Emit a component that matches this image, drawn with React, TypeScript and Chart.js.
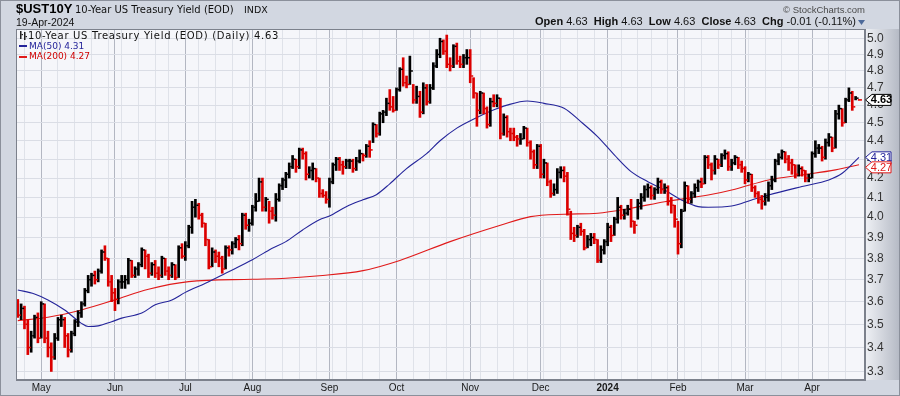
import React, { useEffect, useRef } from "react";
import { Chart, registerables } from "chart.js";
Chart.register(...registerables);

// ---------- DATA ----------
const dates: string[] = [
  "2023-04-20","2023-04-21","2023-04-24","2023-04-25","2023-04-26","2023-04-27","2023-04-28",
  "2023-05-01","2023-05-02","2023-05-03","2023-05-04","2023-05-05","2023-05-08","2023-05-09","2023-05-10","2023-05-11","2023-05-12","2023-05-15","2023-05-16","2023-05-17","2023-05-18","2023-05-19","2023-05-22","2023-05-23","2023-05-24","2023-05-25","2023-05-26","2023-05-30","2023-05-31",
  "2023-06-01","2023-06-02","2023-06-05","2023-06-06","2023-06-07","2023-06-08","2023-06-09","2023-06-12","2023-06-13","2023-06-14","2023-06-15","2023-06-16","2023-06-20","2023-06-21","2023-06-22","2023-06-23","2023-06-26","2023-06-27","2023-06-28","2023-06-29","2023-06-30",
  "2023-07-03","2023-07-05","2023-07-06","2023-07-07","2023-07-10","2023-07-11","2023-07-12","2023-07-13","2023-07-14","2023-07-17","2023-07-18","2023-07-19","2023-07-20","2023-07-21","2023-07-24","2023-07-25","2023-07-26","2023-07-27","2023-07-28","2023-07-31",
  "2023-08-01","2023-08-02","2023-08-03","2023-08-04","2023-08-07","2023-08-08","2023-08-09","2023-08-10","2023-08-11","2023-08-14","2023-08-15","2023-08-16","2023-08-17","2023-08-18","2023-08-21","2023-08-22","2023-08-23","2023-08-24","2023-08-25","2023-08-28","2023-08-29","2023-08-30","2023-08-31",
  "2023-09-01","2023-09-05","2023-09-06","2023-09-07","2023-09-08","2023-09-11","2023-09-12","2023-09-13","2023-09-14","2023-09-15","2023-09-18","2023-09-19","2023-09-20","2023-09-21","2023-09-22","2023-09-25","2023-09-26","2023-09-27","2023-09-28","2023-09-29",
  "2023-10-02","2023-10-03","2023-10-04","2023-10-05","2023-10-06","2023-10-09","2023-10-10","2023-10-11","2023-10-12","2023-10-13","2023-10-16","2023-10-17","2023-10-18","2023-10-19","2023-10-20","2023-10-23","2023-10-24","2023-10-25","2023-10-26","2023-10-27","2023-10-30","2023-10-31",
  "2023-11-01","2023-11-02","2023-11-03","2023-11-06","2023-11-07","2023-11-08","2023-11-09","2023-11-10","2023-11-13","2023-11-14","2023-11-15","2023-11-16","2023-11-17","2023-11-20","2023-11-21","2023-11-22","2023-11-24","2023-11-27","2023-11-28","2023-11-29","2023-11-30",
  "2023-12-01","2023-12-04","2023-12-05","2023-12-06","2023-12-07","2023-12-08","2023-12-11","2023-12-12","2023-12-13","2023-12-14","2023-12-15","2023-12-18","2023-12-19","2023-12-20","2023-12-21","2023-12-22","2023-12-26","2023-12-27","2023-12-28","2023-12-29",
  "2024-01-02","2024-01-03","2024-01-04","2024-01-05","2024-01-08","2024-01-09","2024-01-10","2024-01-11","2024-01-12","2024-01-16","2024-01-17","2024-01-18","2024-01-19","2024-01-22","2024-01-23","2024-01-24","2024-01-25","2024-01-26","2024-01-29","2024-01-30","2024-01-31",
  "2024-02-01","2024-02-02","2024-02-05","2024-02-06","2024-02-07","2024-02-08","2024-02-09","2024-02-12","2024-02-13","2024-02-14","2024-02-15","2024-02-16","2024-02-20","2024-02-21","2024-02-22","2024-02-23","2024-02-26","2024-02-27","2024-02-28","2024-02-29",
  "2024-03-01","2024-03-04","2024-03-05","2024-03-06","2024-03-07","2024-03-08","2024-03-11","2024-03-12","2024-03-13","2024-03-14","2024-03-15","2024-03-18","2024-03-19","2024-03-20","2024-03-21","2024-03-22","2024-03-25","2024-03-26","2024-03-27","2024-03-28",
  "2024-04-01","2024-04-02","2024-04-03","2024-04-04","2024-04-05","2024-04-08","2024-04-09","2024-04-10","2024-04-11","2024-04-12","2024-04-15","2024-04-16","2024-04-17","2024-04-18","2024-04-19",
];

const prevClose = 3.6; // close before the first bar

const closes: number[] = [
  3.54,3.57,3.50,3.40,3.45,3.53,3.44,
  3.59,3.44,3.40,3.36,3.44,3.52,3.52,3.45,3.39,3.46,3.51,3.55,3.59,3.65,3.70,3.72,3.70,3.74,3.83,3.80,3.69,3.64,
  3.61,3.69,3.69,3.70,3.79,3.72,3.75,3.77,3.84,3.81,3.73,3.77,3.73,3.72,3.80,3.74,3.72,3.77,3.71,3.85,3.81,
  3.86,3.95,4.05,4.06,4.01,3.97,3.89,3.76,3.83,3.81,3.80,3.75,3.85,3.84,3.87,3.89,3.87,4.01,3.96,3.97,
  4.05,4.08,4.18,4.05,4.09,4.03,4.01,4.09,4.16,4.19,4.22,4.26,4.30,4.26,4.35,4.33,4.22,4.24,4.25,4.20,4.12,4.11,4.09,
  4.18,4.27,4.30,4.27,4.26,4.29,4.29,4.25,4.29,4.33,4.32,4.37,4.35,4.49,4.44,4.55,4.56,4.61,4.59,4.57,
  4.69,4.81,4.73,4.72,4.80,4.63,4.65,4.56,4.70,4.62,4.70,4.83,4.90,4.98,4.92,4.84,4.83,4.95,4.86,4.84,4.88,4.88,
  4.77,4.67,4.57,4.67,4.58,4.49,4.62,4.61,4.64,4.44,4.53,4.45,4.44,4.42,4.41,4.41,4.47,4.39,4.34,4.27,4.37,
  4.22,4.28,4.18,4.12,4.14,4.23,4.24,4.21,4.04,3.92,3.91,3.95,3.93,3.85,3.89,3.90,3.89,3.79,3.84,3.88,
  3.95,3.91,3.99,4.05,4.01,4.02,4.04,3.98,3.96,4.07,4.10,4.14,4.15,4.11,4.14,4.18,4.14,4.15,4.08,4.06,3.99,
  3.87,4.03,4.16,4.09,4.12,4.15,4.18,4.17,4.31,4.27,4.24,4.30,4.27,4.32,4.33,4.26,4.28,4.31,4.27,4.25,
  4.19,4.22,4.15,4.12,4.09,4.08,4.10,4.16,4.19,4.29,4.31,4.34,4.30,4.28,4.27,4.22,4.25,4.24,4.20,4.20,
  4.33,4.36,4.36,4.31,4.39,4.42,4.36,4.55,4.58,4.50,4.63,4.67,4.59,4.64,4.63,
];

const highs: number[] = [
  3.61,3.59,3.58,3.52,3.47,3.54,3.55,
  3.60,3.59,3.47,3.42,3.46,3.53,3.54,3.53,3.46,3.47,3.52,3.56,3.60,3.66,3.72,3.73,3.74,3.75,3.84,3.86,3.80,3.72,
  3.66,3.70,3.72,3.72,3.80,3.79,3.76,3.78,3.85,3.84,3.82,3.78,3.79,3.76,3.81,3.80,3.76,3.78,3.77,3.86,3.87,
  3.88,3.96,4.08,4.09,4.07,4.02,3.97,3.89,3.85,3.84,3.83,3.81,3.86,3.86,3.88,3.90,3.91,4.02,4.02,3.99,
  4.06,4.12,4.20,4.20,4.10,4.08,4.05,4.12,4.17,4.20,4.23,4.28,4.32,4.30,4.36,4.36,4.34,4.26,4.28,4.25,4.20,4.14,4.13,
  4.20,4.28,4.31,4.31,4.29,4.30,4.30,4.30,4.31,4.35,4.33,4.38,4.40,4.50,4.49,4.56,4.57,4.64,4.69,4.65,
  4.70,4.82,4.88,4.77,4.89,4.72,4.71,4.68,4.73,4.72,4.72,4.85,4.93,5.00,4.99,5.02,4.88,4.96,4.97,4.89,4.90,4.93,
  4.93,4.76,4.67,4.68,4.67,4.59,4.64,4.66,4.66,4.64,4.55,4.54,4.47,4.47,4.43,4.44,4.48,4.47,4.40,4.35,4.38,
  4.38,4.30,4.28,4.19,4.17,4.25,4.26,4.26,4.23,4.03,3.95,3.96,3.97,3.94,3.91,3.92,3.92,3.89,3.86,3.89,
  3.97,3.96,4.00,4.10,4.06,4.04,4.06,4.09,3.98,4.09,4.12,4.16,4.17,4.16,4.15,4.20,4.19,4.17,4.16,4.10,4.06,
  3.98,4.04,4.18,4.16,4.13,4.17,4.19,4.20,4.32,4.32,4.28,4.32,4.30,4.33,4.35,4.34,4.30,4.32,4.31,4.29,
  4.26,4.23,4.22,4.16,4.13,4.11,4.12,4.18,4.21,4.30,4.33,4.35,4.34,4.32,4.30,4.27,4.27,4.26,4.24,4.22,
  4.34,4.40,4.38,4.37,4.41,4.44,4.42,4.57,4.60,4.58,4.64,4.70,4.68,4.65,4.63,
];

const lows: number[] = [
  3.53,3.52,3.48,3.37,3.38,3.44,3.42,
  3.44,3.42,3.36,3.30,3.35,3.43,3.49,3.40,3.36,3.38,3.45,3.49,3.53,3.58,3.64,3.67,3.68,3.69,3.73,3.79,3.67,3.60,
  3.56,3.59,3.66,3.66,3.68,3.71,3.71,3.72,3.76,3.75,3.71,3.72,3.71,3.70,3.71,3.72,3.70,3.71,3.70,3.71,3.80,
  3.79,3.85,3.92,4.00,3.99,3.95,3.86,3.75,3.76,3.78,3.76,3.73,3.75,3.81,3.82,3.85,3.84,3.86,3.94,3.93,
  3.96,4.03,4.08,4.03,4.03,3.97,3.99,3.98,4.08,4.14,4.15,4.20,4.25,4.23,4.25,4.30,4.19,4.20,4.19,4.18,4.10,4.10,4.07,
  4.05,4.17,4.24,4.24,4.22,4.25,4.25,4.23,4.24,4.28,4.29,4.31,4.31,4.39,4.42,4.43,4.50,4.54,4.57,4.56,
  4.57,4.68,4.71,4.70,4.72,4.61,4.61,4.53,4.55,4.60,4.61,4.69,4.82,4.88,4.90,4.82,4.80,4.82,4.84,4.82,4.82,4.84,
  4.73,4.64,4.48,4.55,4.55,4.47,4.48,4.59,4.59,4.41,4.43,4.42,4.40,4.40,4.37,4.38,4.41,4.37,4.30,4.25,4.25,
  4.20,4.20,4.16,4.10,4.11,4.12,4.20,4.18,4.01,3.89,3.88,3.90,3.91,3.84,3.85,3.86,3.87,3.78,3.78,3.82,
  3.86,3.88,3.91,3.97,3.99,3.99,4.01,3.95,3.92,3.99,4.04,4.08,4.10,4.09,4.09,4.12,4.12,4.12,4.06,4.02,3.95,
  3.82,3.85,4.03,4.07,4.07,4.10,4.13,4.15,4.17,4.25,4.19,4.22,4.25,4.26,4.30,4.24,4.24,4.27,4.25,4.23,
  4.17,4.18,4.13,4.10,4.07,4.04,4.06,4.08,4.14,4.18,4.27,4.30,4.28,4.24,4.22,4.20,4.21,4.21,4.18,4.18,
  4.20,4.31,4.33,4.29,4.30,4.37,4.34,4.36,4.52,4.48,4.50,4.62,4.57,4.63,4.63,
];

const ma50Dates: string[] = [
  "2023-04-20","2023-04-27","2023-05-03","2023-05-10","2023-05-17","2023-05-19","2023-05-24","2023-05-31","2023-06-05","2023-06-13",
  "2023-06-20","2023-06-27","2023-07-03","2023-07-12","2023-07-20","2023-08-01","2023-08-08","2023-08-15","2023-08-22","2023-08-29",
  "2023-09-01","2023-09-11","2023-09-18","2023-09-22","2023-09-28","2023-10-05","2023-10-13","2023-10-19","2023-10-26","2023-11-03",
  "2023-11-09","2023-11-16","2023-11-27","2023-12-04","2023-12-12","2023-12-19","2023-12-27","2024-01-04","2024-01-11","2024-01-19",
  "2024-01-26","2024-02-02","2024-02-09","2024-02-14","2024-02-26","2024-03-05","2024-03-12","2024-03-26","2024-04-08","2024-04-12",
  "2024-04-19",
];
const ma50Values: number[] = [
  3.653,3.635,3.608,3.563,3.504,3.490,3.493,3.511,3.527,3.549,
  3.586,3.608,3.642,3.684,3.730,3.793,3.840,3.880,3.937,3.987,
  4.006,4.053,4.088,4.114,4.17,4.25,4.33,4.40,4.47,4.53,
  4.565,4.60,4.624,4.61,4.582,4.506,4.423,4.323,4.234,4.181,
  4.138,4.087,4.053,4.050,4.056,4.087,4.112,4.156,4.190,4.225,
  4.31,
];

const ma200Dates: string[] = [
  "2023-04-20","2023-05-03","2023-05-17","2023-06-01","2023-06-15","2023-07-05","2023-08-01","2023-08-15","2023-08-29","2023-09-18",
  "2023-10-03","2023-10-24","2023-11-14","2023-11-28","2023-12-12","2023-12-27","2024-01-11","2024-01-26","2024-02-14","2024-02-27",
  "2024-03-12","2024-03-26","2024-04-10","2024-04-19",
];
const ma200Values: number[] = [
  3.516,3.531,3.563,3.608,3.656,3.691,3.702,3.707,3.718,3.742,
  3.790,3.880,3.960,4.003,4.015,4.020,4.045,4.078,4.112,4.142,
  4.190,4.216,4.243,4.27,
];

const yTickValues: number[] = [3.3,3.4,3.5,3.6,3.7,3.8,3.9,4.0,4.1,4.2,4.3,4.4,4.5,4.6,4.7,4.8,4.9,5.0];
const monthNames: string[] = ["Jan","Feb","Mar","Apr","May","Jun","Jul","Aug","Sep","Oct","Nov","Dec"];

const lastOpen = 4.63;
const lastChange = -0.01;
const lastChangePct = -0.11;

// ---------- DERIVED ----------
const parsed = dates.map((d) => new Date(d + "T00:00:00Z"));
const monthStarts: number[] = [];
const weekStarts: number[] = [];
parsed.forEach((d, i) => {
  if (i === 0) return;
  const p = parsed[i - 1];
  if (d.getUTCMonth() !== p.getUTCMonth()) monthStarts.push(i);
  if (d.getUTCDay() <= p.getUTCDay() || (d.getTime() - p.getTime()) > 4 * 86400000) weekStarts.push(i);
});
const monthSet = new Set(monthStarts);
const gridTicks = Array.from(new Set([...weekStarts, ...monthStarts])).sort((a, b) => a - b);
const monthLabel = (i: number) => {
  const d = parsed[i];
  return d.getUTCMonth() === 0 ? String(d.getUTCFullYear()) : monthNames[d.getUTCMonth()];
};

const RED = "#dc0000";
const BLACK = "#000000";
const BLUE = "#24249a";
const MARED = "#e01a1a";
const barColors = closes.map((c, i) => (c < (i === 0 ? prevClose : closes[i - 1]) ? RED : BLACK));

const SANS = "'Liberation Sans', Arial, sans-serif";
const DV = "'DejaVu Sans', Verdana, sans-serif";

const last = closes[closes.length - 1];
const lastHigh = highs[highs.length - 1];
const lastLow = lows[lows.length - 1];
const ma50Last = ma50Values[ma50Values.length - 1];
const ma200Last = ma200Values[ma200Values.length - 1];

// ---------- PLUGINS ----------
const bgPlugin = {
  id: "bgPlugin",
  beforeDraw(chart: any) {
    const { ctx, chartArea: a, width } = chart;
    ctx.save();
    const g = ctx.createLinearGradient(a.right, 0, width, 0);
    g.addColorStop(0, "#eff1f5");
    g.addColorStop(1, "#b4b9c4");
    ctx.fillStyle = g;
    ctx.fillRect(a.right, a.top, width - a.right, a.bottom - a.top);
    ctx.fillStyle = "#f5f6fa";
    ctx.fillRect(a.left, a.top, a.right - a.left, a.bottom - a.top);
    ctx.restore();
  },
  afterDraw(chart: any) {
    const { ctx, chartArea: a } = chart;
    ctx.save();
    ctx.strokeStyle = "#7c818c";
    ctx.lineWidth = 1;
    ctx.strokeRect(Math.round(a.left) + 0.5, Math.round(a.top) + 0.5, Math.round(a.right - a.left) - 1, Math.round(a.bottom - a.top) - 1);
    ctx.restore();
  },
};

const closeTickPlugin = {
  id: "closeTicks",
  afterDatasetsDraw(chart: any) {
    const { ctx } = chart;
    const meta = chart.getDatasetMeta(0);
    const ys = chart.scales.y;
    ctx.save();
    meta.data.forEach((el: any, i: number) => {
      const y = ys.getPixelForValue(closes[i]);
      ctx.fillStyle = barColors[i];
      ctx.fillRect(el.x + 1, y - 0.75, 2, 1.5);
      if (highs[i] === lows[i]) ctx.fillRect(el.x - 1, y - 0.75, 2, 1.5);
    });
    ctx.restore();
  },
};

const valueBoxPlugin = {
  id: "valueBoxes",
  afterDraw(chart: any) {
    const { ctx, chartArea: a } = chart;
    const ys = chart.scales.y;
    const boxes = [
      { v: last, color: "#000000", text: last.toFixed(2), bold: true },
      { v: ma50Last, color: BLUE, text: ma50Last.toFixed(2), bold: false },
      { v: ma200Last, color: MARED, text: ma200Last.toFixed(2), bold: false },
    ].map((b) => ({ ...b, y: ys.getPixelForValue(b.v) }));
    boxes.sort((p, q) => p.y - q.y);
    for (let i = 1; i < boxes.length; i++) {
      if (boxes[i].y - boxes[i - 1].y < 10) boxes[i].y = boxes[i - 1].y + 10;
    }
    ctx.save();
    boxes.forEach((b) => {
      const x0 = a.right + 0.5;
      const x1 = a.right + 7;
      const x2 = a.right + 26;
      const h = 5.5;
      ctx.beginPath();
      ctx.moveTo(x0, b.y);
      ctx.lineTo(x1, b.y - h);
      ctx.lineTo(x2, b.y - h);
      ctx.lineTo(x2, b.y + h);
      ctx.lineTo(x1, b.y + h);
      ctx.closePath();
      ctx.fillStyle = "#ffffff";
      ctx.fill();
      ctx.strokeStyle = b.color;
      ctx.lineWidth = 1;
      ctx.stroke();
      ctx.fillStyle = b.color;
      ctx.font = `${b.bold ? "bold " : ""}11px ${SANS}`;
      ctx.textAlign = "center";
      ctx.textBaseline = "middle";
      ctx.fillText(b.text, (x1 + x2) / 2, b.y + 0.5);
    });
    ctx.restore();
  },
};

// ---------- COMPONENT ----------
function Txt(props: any) {
  const { x, base, size, family, weight, color, right, ls, children } = props;
  const style: any = {
    position: "absolute",
    top: base - size * 0.85,
    fontSize: size,
    lineHeight: `${size}px`,
    fontFamily: family,
    fontWeight: weight || "normal",
    color: color || "#000",
    whiteSpace: "nowrap",
    letterSpacing: ls || 0,
  };
  if (right !== undefined) style.right = 900 - right;
  else style.left = x;
  return <div style={style}>{children}</div>;
}

export default function App() {
  const ref = useRef<HTMLCanvasElement>(null);
  useEffect(() => {
    const chart = new Chart(ref.current as HTMLCanvasElement, {
      type: "bar",
      data: {
        datasets: [
          {
            type: "bar",
            label: "10-Year US Treasury Yield",
            data: closes.map((c, i) => ({ x: i, y: [lows[i], highs[i]] })) as any,
            backgroundColor: barColors,
            borderWidth: 0,
            barThickness: 2,
            grouped: false,
            order: 0,
          } as any,
          {
            type: "line",
            label: "MA(50)",
            data: ma50Dates.map((d, k) => ({ x: dates.indexOf(d), y: ma50Values[k] })),
            borderColor: BLUE,
            borderWidth: 1.1,
            pointRadius: 0,
            cubicInterpolationMode: "monotone",
            order: 1,
          } as any,
          {
            type: "line",
            label: "MA(200)",
            data: ma200Dates.map((d, k) => ({ x: dates.indexOf(d), y: ma200Values[k] })),
            borderColor: MARED,
            borderWidth: 1.1,
            pointRadius: 0,
            cubicInterpolationMode: "monotone",
            order: 1,
          } as any,
        ],
      },
      options: {
        animation: false,
        responsive: false,
        devicePixelRatio: 1,
        layout: { padding: { left: 16, top: 29, right: 0, bottom: 0 } },
        plugins: { legend: { display: false }, tooltip: { enabled: false } },
        scales: {
          x: {
            type: "linear",
            min: -0.53,
            max: 252.8,
            offset: false,
            afterBuildTicks: (s: any) => {
              s.ticks = gridTicks.map((v) => ({ value: v }));
            },
            afterFit: (s: any) => {
              s.height = 16;
            },
            grid: {
              offset: false,
              drawTicks: false,
              color: (ctx: any) => (ctx.tick && monthSet.has(ctx.tick.value) ? "#b3b7c2" : "#dfe2e9"),
              lineWidth: 1,
            },
            border: { display: true, color: "#7c818c" },
            ticks: {
              autoSkip: false,
              maxRotation: 0,
              minRotation: 0,
              padding: 2,
              color: "#1a1a1a",
              callback: (v: any) => (monthSet.has(v) ? monthLabel(v) : ""),
              font: (ctx: any) => ({
                family: SANS,
                size: 10,
                weight: ctx.tick && monthSet.has(ctx.tick.value) && parsed[ctx.tick.value].getUTCMonth() === 0 ? "bold" : "normal",
              }),
            },
          } as any,
          y: {
            type: "logarithmic",
            position: "right",
            min: 3.265,
            max: 5.058,
            beginAtZero: false,
            afterBuildTicks: (s: any) => {
              s.ticks = yTickValues.map((v) => ({ value: v }));
            },
            afterFit: (s: any) => {
              s.width = 35;
            },
            grid: { color: "#dadde5", lineWidth: 1, drawTicks: false },
            border: { display: true, color: "#7c818c" },
            ticks: {
              autoSkip: false,
              padding: 2,
              color: "#333333",
              font: { family: SANS, size: 12 },
              callback: (v: any) => Number(v).toFixed(1),
            },
          } as any,
        },
      },
      plugins: [bgPlugin, closeTickPlugin, valueBoxPlugin],
    } as any);
    return () => chart.destroy();
  }, []);

  return (
    <div style={{ position: "absolute", left: 0, top: 0, width: 900, height: 396, background: "#d2d7e1", overflow: "hidden" }}>
      <canvas ref={ref} width={900} height={396} style={{ position: "absolute", left: 0, top: 0, width: 900, height: 396 }} />
      <Txt x={16} base={13.5} size={13} family={SANS} weight="bold">$UST10Y</Txt>
      <Txt x={75} base={13} size={10} family={DV} color="#111">10-Year US Treasury Yield (EOD)</Txt>
      <Txt x={244} base={13} size={9.5} family={DV} color="#111">INDX</Txt>
      <Txt x={16} base={26} size={10.5} family={SANS} color="#111">19-Apr-2024</Txt>
      <Txt right={865} base={13} size={9.5} family={SANS} color="#4a4a4a">© StockCharts.com</Txt>
      <Txt right={856} base={25.7} size={11} family={SANS} color="#111">
        <b>Open</b> {lastOpen.toFixed(2)}&nbsp; <b>High</b> {lastHigh.toFixed(2)}&nbsp; <b>Low</b> {lastLow.toFixed(2)}&nbsp; <b>Close</b> {last.toFixed(2)}&nbsp; <b>Chg</b> {lastChange.toFixed(2)} ({lastChangePct.toFixed(2)}%)
      </Txt>
      <svg style={{ position: "absolute", left: 858, top: 20 }} width={8} height={6}>
        <polygon points="0,0 7,0 3.5,5" fill="#4d6a9a" />
      </svg>
      <svg style={{ position: "absolute", left: 19, top: 31 }} width={9} height={9}>
        <rect x={1} y={0} width={1.5} height={8} fill="#222" />
        <rect x={2.5} y={3} width={1.5} height={1.2} fill="#222" />
        <rect x={5} y={1} width={1.5} height={8} fill="#222" />
        <rect x={6.5} y={5} width={1.5} height={1.2} fill="#222" />
      </svg>
      <Txt x={28} base={39} size={10} family={DV} color="#111" ls={0.7}>10-Year US Treasury Yield (EOD) (Daily) {last.toFixed(2)}</Txt>
      <div style={{ position: "absolute", left: 19, top: 45, width: 8, height: 2, background: BLUE }} />
      <Txt x={29} base={49.3} size={9} family={DV} color={BLUE}>MA(50) {ma50Last.toFixed(2)}</Txt>
      <div style={{ position: "absolute", left: 19, top: 55.5, width: 8, height: 2, background: MARED }} />
      <Txt x={29} base={59.6} size={9} family={DV} color="#d00000">MA(200) {ma200Last.toFixed(2)}</Txt>
      <div style={{ position: "absolute", left: 0, top: 0, width: 900, height: 396, boxSizing: "border-box", border: "1px solid #8b909b", pointerEvents: "none" }} />
    </div>
  );
}
